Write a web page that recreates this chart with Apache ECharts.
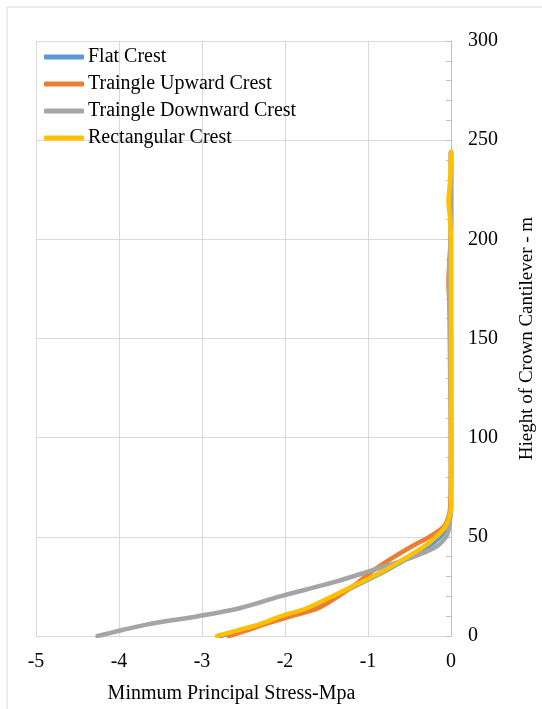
<!DOCTYPE html>
<html>
<head>
<meta charset="utf-8">
<script src="https://cdn.jsdelivr.net/npm/echarts@6/dist/echarts.min.js"></script>
<style>
  html, body { margin: 0; padding: 0; background: #fff; }
  #chart { width: 542px; height: 709px; }
</style>
</head>
<body>
<div id="chart"></div>
<script>
// 高度 (m)
var heights = [0, 3, 6, 10, 14, 20, 27, 33, 39, 45, 50, 55, 60, 65, 80, 100, 130, 150, 165, 178, 195, 210, 219, 230, 244];

// 最小主应力 (MPa)，每条曲线对应 heights
var flatCrest      = [-2.78, -2.53, -2.28, -2.02, -1.71, -1.41, -1.07, -0.78, -0.53, -0.28, -0.13, -0.05, -0.01, 0, 0, 0, 0, 0, 0, 0, 0, 0, 0, 0, 0];
var upwardCrest    = [-2.68, -2.45, -2.24, -1.92, -1.60, -1.36, -1.12, -0.94, -0.72, -0.48, -0.26, -0.09, -0.03, -0.01, 0, 0, 0, 0, -0.01, -0.03, -0.01, 0, 0, 0, 0];
var downwardCrest  = [-4.26, -3.96, -3.64, -3.05, -2.55, -2.06, -1.42, -0.96, -0.51, -0.18, -0.06, -0.02, -0.01, 0, 0, 0, -0.01, -0.015, -0.02, -0.025, -0.01, 0, 0, 0, 0];
var rectCrest      = [-2.82, -2.56, -2.30, -2.05, -1.74, -1.43, -1.09, -0.80, -0.56, -0.33, -0.18, -0.07, -0.02, 0, 0, 0, 0, 0, 0, 0, 0, -0.01, -0.03, -0.01, 0];

var seriesNames = ['Flat Crest', 'Traingle Upward Crest', 'Traingle Downward Crest', 'Rectangular Crest'];
var seriesColors = ['#5B9BD5', '#ED7D31', '#A5A5A5', '#FFC000'];
var seriesValues = [flatCrest, upwardCrest, downwardCrest, rectCrest];

var xTicks = [-5, -4, -3, -2, -1, 0];
var yTicks = [0, 50, 100, 150, 200, 250, 300];

var font = '"Liberation Serif", "Times New Roman", serif';

var myChart = echarts.init(document.getElementById('chart'));

var series = seriesValues.map(function (vals, i) {
    return {
        name: seriesNames[i],
        type: 'line',
        smooth: 0.3,
        showSymbol: false,
        symbol: 'none',
        lineStyle: { width: 4.5, color: seriesColors[i], cap: 'round', join: 'round' },
        itemStyle: { color: seriesColors[i] },
        data: vals.map(function (v, k) { return [v, heights[k]]; })
    };
});

var option = {
    animation: false,
    backgroundColor: '#fff',
    graphic: [{
        type: 'rect',
        shape: { x: 7, y: 7, width: 600, height: 800 },
        style: { fill: 'none', stroke: '#d9d9d9', lineWidth: 1 },
        silent: true
    }],
    legend: {
        orient: 'vertical',
        left: 44,
        top: 47,
        padding: 0,
        itemWidth: 40,
        itemHeight: 5,
        itemGap: 7,
        icon: 'roundRect',
        textStyle: { fontFamily: font, fontSize: 20, color: '#000', padding: [0, 0, 0, -1] },
        data: seriesNames
    },
    grid: {
        left: 36,
        right: 91,
        top: 41,
        bottom: 73,
        containLabel: false,
        outerBoundsMode: 'none'
    },
    xAxis: {
        type: 'value',
        min: xTicks[0],
        max: xTicks[xTicks.length - 1],
        interval: 1,
        name: 'Minmum Principal Stress-Mpa',
        nameLocation: 'middle',
        nameGap: 48,
        nameTextStyle: { fontFamily: font, fontSize: 20, color: '#000', padding: [0, 24, 0, 0] },
        axisLine: { lineStyle: { color: '#d9d9d9', width: 1 } },
        axisTick: { show: false },
        axisLabel: { fontFamily: font, fontSize: 20, color: '#000', margin: 16 },
        splitLine: { lineStyle: { color: '#d9d9d9', width: 1 } }
    },
    yAxis: {
        type: 'value',
        position: 'right',
        min: yTicks[0],
        max: yTicks[yTicks.length - 1],
        interval: 50,
        name: 'Hieght of Crown Cantilever - m',
        nameLocation: 'middle',
        nameRotate: 90,
        nameGap: 67,
        nameTextStyle: { fontFamily: font, fontSize: 19, color: '#000' },
        axisLine: { show: true, lineStyle: { color: '#bfbfbf', width: 1 } },
        axisTick: { show: true, inside: true, length: 5, lineStyle: { color: '#bfbfbf' } },
        minorTick: { show: true, splitNumber: 5, length: 5, lineStyle: { color: '#bfbfbf' } },
        axisLabel: { fontFamily: font, fontSize: 20, color: '#000', margin: 17, align: 'left' },
        splitLine: { lineStyle: { color: '#d9d9d9', width: 1 } }
    },
    series: series
};

myChart.setOption(option);
</script>
</body>
</html>
